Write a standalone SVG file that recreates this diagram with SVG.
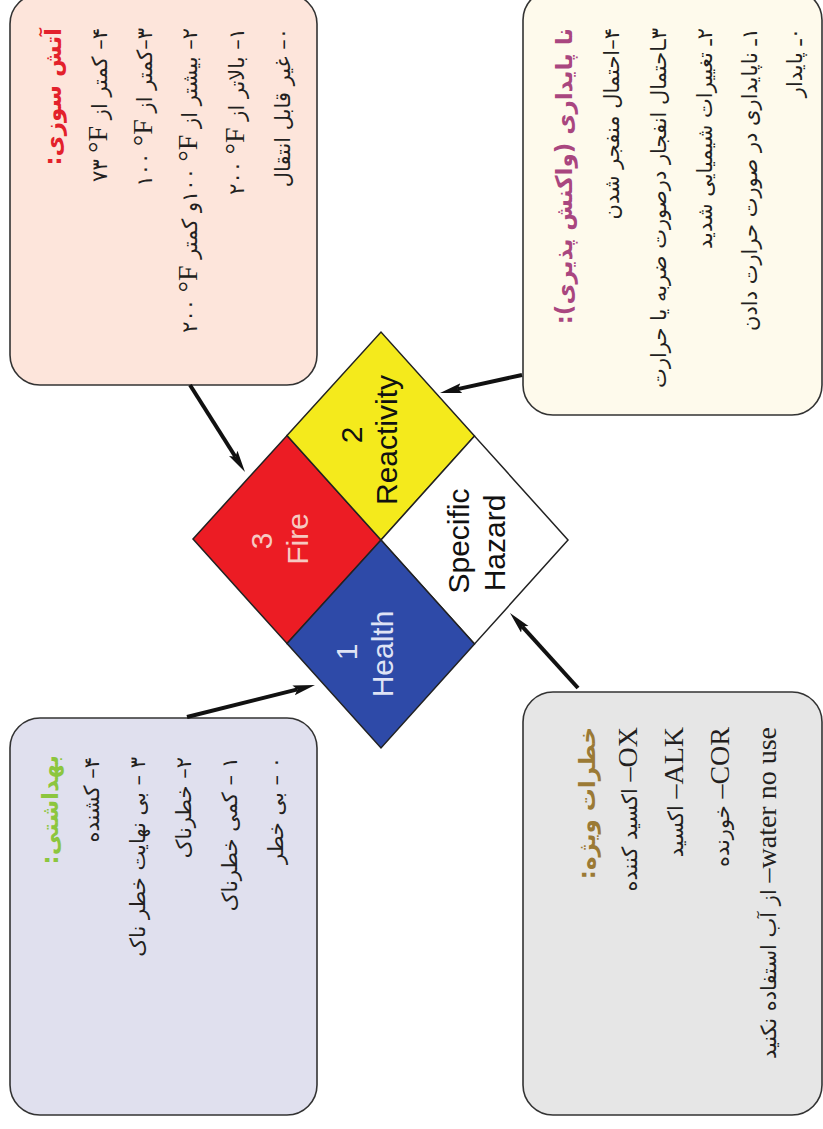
<svg xmlns="http://www.w3.org/2000/svg" width="823" height="1129" viewBox="0 0 823 1129">
<defs>
<style>
.box{stroke:#333;stroke-width:1.6}
.fa{font-family:"DejaVu Sans",sans-serif;font-size:21px;fill:#231f20}
.hd{font-weight:bold;font-size:23px}
.lat{font-family:"Liberation Serif",serif;font-size:28px}
.iso{direction:ltr;unicode-bidi:isolate}
.dm{font-family:"Liberation Sans",Arial,sans-serif;font-size:30px;text-anchor:middle}
.q{stroke:#222;stroke-width:1.5}
.conn{stroke:#111;stroke-width:4;fill:none;marker-end:url(#ah)}
</style>
<marker id="ah" markerUnits="userSpaceOnUse" markerWidth="24" markerHeight="12" refX="4" refY="5" orient="auto"><path d="M0,0 L22,5 L0,10 L4,5 z" fill="#111"/></marker>
</defs>
<rect width="823" height="1129" fill="#fff"/>
<g transform="translate(0,1129) rotate(-90)">
  <g id="fire-box" direction="rtl" class="fa" text-anchor="start">
    <rect class="box" x="744" y="10" width="391" height="307" rx="30" fill="#fde5db"/>
    <text x="1101" y="61" class="hd" fill="#e3212b">آتش سوزی:</text>
    <text x="1101" y="107">۴– کمتر از <tspan class="iso">۷۳ <tspan class="lat">°F</tspan></tspan></text>
    <text x="1101" y="152">۳–کمتر از <tspan class="iso">۱۰۰ <tspan class="lat">°F</tspan></tspan></text>
    <text x="1101" y="197">۲– بیشتر از <tspan class="iso">۱۰۰ <tspan class="lat">°F</tspan></tspan>و کمتر <tspan class="iso">۲۰۰ <tspan class="lat">°F</tspan></tspan></text>
    <text x="1101" y="244">۱– بالاتر از <tspan class="iso">۲۰۰ <tspan class="lat">°F</tspan></tspan></text>
    <text x="1101" y="290">۰– غیر قابل انتقال</text>
  </g>
  <g id="reactivity-box" direction="rtl" class="fa" text-anchor="start">
    <rect class="box" x="714" y="523" width="425" height="299" rx="30" fill="#fefaec"/>
    <text x="1101" y="572" class="hd" fill="#a9467f">نا پایداری (واکنش پذیری):</text>
    <text x="1101" y="619">۴–احتمال منفجر شدن</text>
    <text x="1101" y="666">۳ـاحتمال انفجار درصورت ضربه یا حرارت</text>
    <text x="1101" y="712">۲ـ تغییرات شیمیایی شدید</text>
    <text x="1101" y="757">۱ـ ناپایداری در صورت حرارت دادن</text>
    <text x="1101" y="802">۰ـ پایدار</text>
  </g>
  <g id="health-box" direction="rtl" class="fa" text-anchor="start">
    <rect class="box" x="14" y="10" width="397" height="307" rx="30" fill="#e0e0ee"/>
    <text x="374" y="58" class="hd" fill="#8cc63e">بهداشتی:</text>
    <text x="372" y="99">۴– کشنده</text>
    <text x="372" y="145">۳ – بی نهایت خطر ناک</text>
    <text x="372" y="191">۲– خطرناک</text>
    <text x="372" y="237">۱ – کمی خطرناک</text>
    <text x="372" y="283">۰ – بی خطر</text>
  </g>
  <g id="specific-box" direction="rtl" class="fa" text-anchor="start">
    <rect class="box" x="14" y="523" width="423" height="299" rx="30" fill="#e6e6e6"/>
    <text x="402" y="595" class="hd" fill="#9b7a35">خطرات ویژه:</text>
    <text x="402" y="637"><tspan class="lat">OX–</tspan> اکسید کننده</text>
    <text x="402" y="683"><tspan class="lat">ALK–</tspan> اکسید</text>
    <text x="402" y="729"><tspan class="lat">COR–</tspan> خورنده</text>
    <text x="402" y="776"><tspan class="lat">water no use–</tspan> از آب استفاده نکنید</text>
  </g>
  <g id="nfpa-diamond">
    <polygon class="q" points="590,193 693.5,287 589,381 485.5,287" fill="#ec1c24"/>
    <polygon class="q" points="693.5,287 797,381 693,474.5 589,381" fill="#f4ea1c"/>
    <polygon class="q" points="589,381 693,474.5 589,568 485,474.5" fill="#ffffff"/>
    <polygon class="q" points="485.5,287 589,381 485,474.5 381,381" fill="#2e4aa8"/>
    <text class="dm" x="588" y="272" fill="#f6c9c2">3</text>
    <text class="dm" x="590" y="308" fill="#f6c9c2">Fire</text>
    <text class="dm" x="694" y="362" fill="#111">2</text>
    <text class="dm" x="689" y="397" fill="#111">Reactivity</text>
    <text class="dm" x="477" y="357" fill="#dfe3f5">1</text>
    <text class="dm" x="475" y="393" fill="#dfe3f5">Health</text>
    <text class="dm" x="588" y="469" fill="#111">Specific</text>
    <text class="dm" x="586" y="505" fill="#111">Hazard</text>
  </g>
  <g id="connectors">
    <line class="conn" x1="744" y1="190" x2="672.2" y2="235.4"/>
    <line class="conn" x1="412" y1="187" x2="439.6" y2="297.5"/>
    <line class="conn" x1="754" y1="522" x2="739.9" y2="457.6"/>
    <line class="conn" x1="441" y1="578" x2="502.7" y2="522.1"/>
  </g>
</g>
</svg>
